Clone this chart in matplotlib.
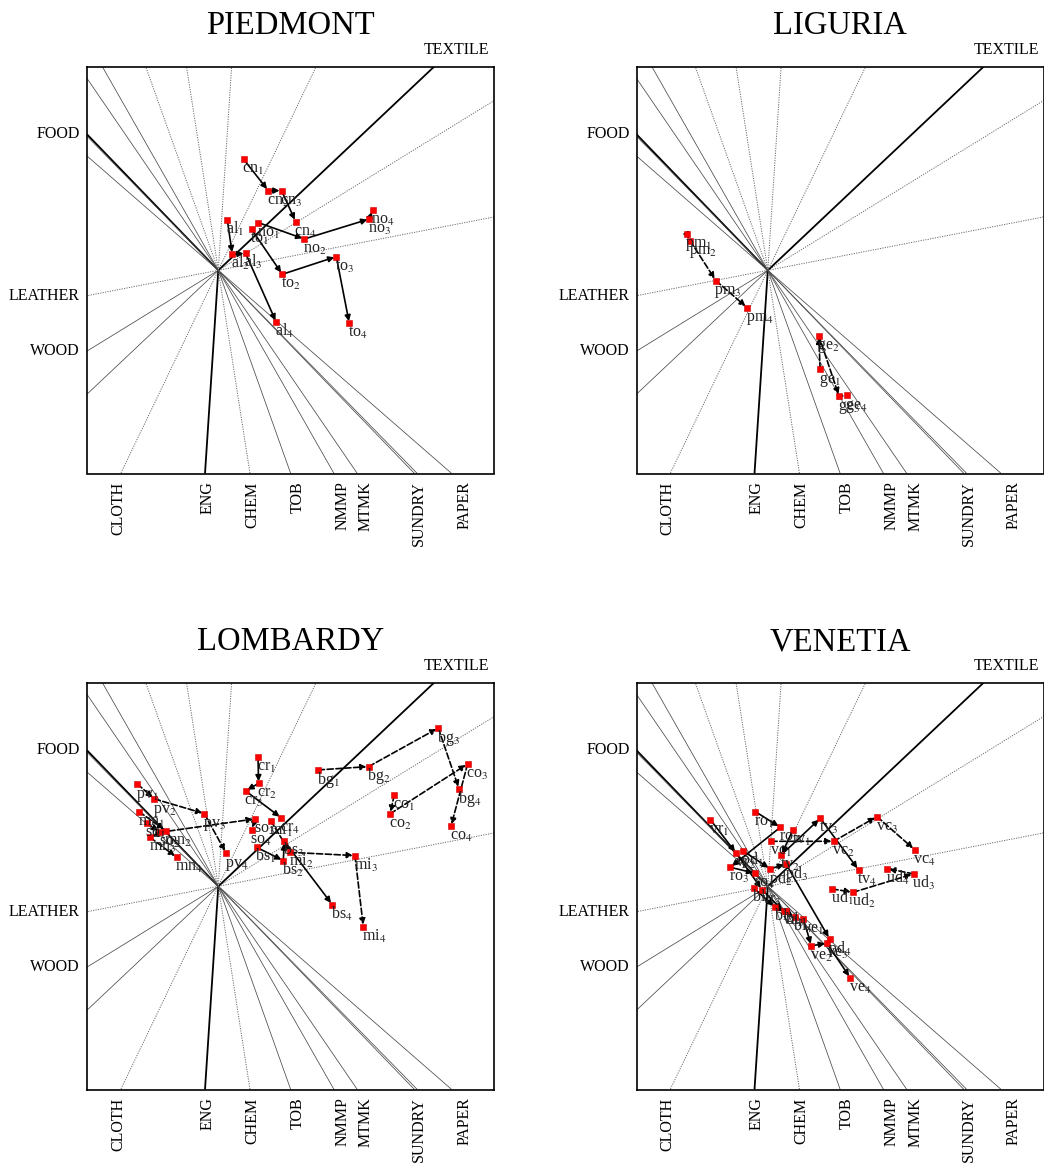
import numpy as np
import matplotlib
matplotlib.use('Agg')
import matplotlib.pyplot as plt

plt.rcParams['font.family'] = ['Liberation Serif', 'DejaVu Serif']
plt.rcParams['mathtext.fontset'] = 'stix'

# ---------------- data ----------------
VARIABLES = ['FOOD', 'LEATHER', 'WOOD', 'TEXTILE', 'CLOTH', 'ENG', 'CHEM',
             'TOB', 'NMMP', 'MTMK', 'SUNDRY', 'PAPER']
VAR_DX = [-1.313, -1.313, -1.313, 2.160, -0.976, -0.133, 0.317,
          0.724, 1.157, 1.390, 1.990, 2.334]
VAR_DY = [1.360, -0.254, -0.808, 2.038, -2.032, -2.032, -2.032,
          -2.032, -2.032, -2.032, -2.032, -2.032]

PIE_codes = ['cn', 'no', 'to', 'al']
PIE_x = [[0.253, 0.500, 0.633, 0.773],
         [0.400, 0.860, 1.510, 1.543],
         [0.333, 0.640, 1.180, 1.310],
         [0.090, 0.140, 0.273, 0.580]]
PIE_y = [[1.110, 0.797, 0.797, 0.487],
         [0.477, 0.313, 0.513, 0.603],
         [0.410, -0.040, 0.137, -0.530],
         [0.503, 0.160, 0.170, -0.520]]

LIG_codes = ['pm', 'ge']
LIG_x = [[-0.813, -0.777, -0.520, -0.207],
         [0.523, 0.510, 0.713, 0.787]]
LIG_y = [[0.367, 0.297, -0.103, -0.373],
         [-0.987, -0.653, -1.260, -1.250]]

LOM_codes = ['pv', 'mn', 'so', 'cr', 'mi', 'bs', 'bg', 'co']
LOM_x = [[-0.810, -0.640, -0.140, 0.077],
         [-0.793, -0.527, -0.683, -0.417],
         [-0.717, -0.583, 0.367, 0.334],
         [0.397, 0.403, 0.273, 0.630],
         [0.524, 0.717, 1.367, 1.450],
         [0.383, 0.650, 0.660, 1.140],
         [1.000, 1.503, 2.200, 2.407],
         [1.760, 1.717, 2.493, 2.327]]
LOM_y = [[1.024, 0.874, 0.727, 0.334],
         [0.747, 0.557, 0.490, 0.290],
         [0.634, 0.540, 0.674, 0.564],
         [1.297, 1.030, 0.954, 0.684],
         [0.657, 0.340, 0.307, -0.403],
         [0.390, 0.257, 0.450, -0.183],
         [1.164, 1.197, 1.583, 0.974],
         [0.914, 0.724, 1.224, 0.600]]

VEN_codes = ['vr', 'ro', 'tv', 'vc', 'ud', 'pd', 'bl', 've']
VEN_x = [[-0.575, -0.315, -0.058, 0.158],
         [-0.125, 0.125, -0.375, -0.125],
         [0.252, 0.135, 0.525, 0.908],
         [0.032, 0.658, 1.092, 1.468],
         [0.642, 0.852, 1.458, 1.192],
         [-0.252, 0.025, 0.182, 0.618],
         [-0.142, 0.075, 0.185, 0.268],
         [0.355, 0.435, 0.592, 0.825]]
VEN_y = [[0.667, 0.330, -0.033, -0.250],
         [0.747, 0.590, 0.190, 0.130],
         [0.567, 0.314, 0.680, 0.164],
         [0.450, 0.450, 0.697, 0.366],
         [-0.026, -0.060, 0.124, 0.177],
         [0.357, 0.174, 0.224, -0.526],
         [-0.016, -0.210, -0.250, -0.310],
         [-0.323, -0.595, -0.570, -0.916]]

# ---------------- styles / layout ----------------
POS_STYLE = ['bold', 'dot', 'solid', 'bold', 'dot', 'bold', 'dot',
             'solid', 'solid', 'solid', 'solid', 'solid']
NEG_STYLE = ['solid', 'dot', 'dot', 'solid', 'dot', 'dot', 'dot',
             'dot', 'solid', 'solid', 'solid', 'solid']
STYLE = {
    'bold': dict(color='black', lw=1.3, ls='-'),
    'solid': dict(color='#4a4a4a', lw=0.55, ls='-'),
    'dot': dict(color='#6a6a6a', lw=0.7, ls=(0, (1.2, 1.3))),
}
LEFT_LABELS = ['FOOD', 'LEATHER', 'WOOD']
BOTTOM_LABELS = ['CLOTH', 'ENG', 'CHEM', 'TOB', 'NMMP', 'MTMK', 'SUNDRY', 'PAPER']
BOTTOM_LABEL_X = [-1.00, -0.11, 0.34, 0.79, 1.24, 1.474, 2.01, 2.46]

DASHED = {'LIGURIA': {'pm', 'ge'},
          'LOMBARDY': {'pv', 'mn', 'so', 'bg', 'co', 'mi'},
          'VENETIA': {'vc', 'ud'},
          'PIEDMONT': set()}

XLIM = (-1.313, 2.757)
YLIM = (-2.032, 2.038)

W, H = 1044, 1168
BOX = 407
panels = [
    ('PIEDMONT', 87, 66.5, PIE_codes, PIE_x, PIE_y),
    ('LIGURIA', 636.5, 66.5, LIG_codes, LIG_x, LIG_y),
    ('LOMBARDY', 87, 682.5, LOM_codes, LOM_x, LOM_y),
    ('VENETIA', 636.5, 682.5, VEN_codes, VEN_x, VEN_y),
]

fig = plt.figure(figsize=(W / 100, H / 100), dpi=100)


def t_to_edge(ux, uy):
    ts = []
    if ux > 0:
        ts.append(XLIM[1] / ux)
    elif ux < 0:
        ts.append(XLIM[0] / ux)
    if uy > 0:
        ts.append(YLIM[1] / uy)
    elif uy < 0:
        ts.append(YLIM[0] / uy)
    return min(ts)


for title, x0, y0, codes, xs, ys in panels:
    ax = fig.add_axes([x0 / W, 1 - (y0 + BOX) / H, BOX / W, BOX / H])
    ax.set_xlim(*XLIM)
    ax.set_ylim(*YLIM)
    ax.set_xticks([])
    ax.set_yticks([])
    for sp in ax.spines.values():
        sp.set_linewidth(1.2)
        sp.set_color('black')

    # variable axes through the origin
    for i, v in enumerate(VARIABLES):
        ux, uy = VAR_DX[i], VAR_DY[i]
        tp = t_to_edge(ux, uy)
        tn = t_to_edge(-ux, -uy)
        ax.plot([0, tp * ux], [0, tp * uy], zorder=1,
                solid_capstyle='butt', **STYLE[POS_STYLE[i]])
        ax.plot([0, -tn * ux], [0, -tn * uy], zorder=1,
                solid_capstyle='butt', **STYLE[NEG_STYLE[i]])

    # left labels
    ytr = ax.get_yaxis_transform()
    for name in LEFT_LABELS:
        i = VARIABLES.index(name)
        ax.text(-7 / BOX, VAR_DY[i], name, transform=ytr, ha='right',
                va='center', fontsize=11.5, clip_on=False)
    # bottom labels
    xtr = ax.get_xaxis_transform()
    for name, lx in zip(BOTTOM_LABELS, BOTTOM_LABEL_X):
        ax.text(lx, -8 / BOX, name, transform=xtr, rotation=90, ha='center',
                va='top', fontsize=11.5, clip_on=False)
    # TEXTILE label
    ax.text((456.7 - 87) / BOX, 1 + 12.5 / BOX, 'TEXTILE', transform=ax.transAxes,
            ha='center', va='baseline', fontsize=11.5, clip_on=False)
    # title
    ax.text(0.5, 1 + 32 / BOX, title, transform=ax.transAxes, ha='center',
            va='baseline', fontsize=23.5, clip_on=False)

    # trajectories
    for code, sx, sy in zip(codes, xs, ys):
        ls = '--' if code in DASHED[title] else '-'
        for k in range(len(sx) - 1):
            ax.annotate('', xy=(sx[k + 1], sy[k + 1]), xytext=(sx[k], sy[k]),
                        arrowprops=dict(arrowstyle='-|>', color='black', lw=1.2,
                                        linestyle=ls, mutation_scale=8.5,
                                        shrinkA=0, shrinkB=1.5),
                        zorder=3)
        ax.plot(sx, sy, ls='none', marker='s', ms=4.0, mfc='#ff0000',
                mec='#cc0000', mew=0.4, zorder=4)
        for k in range(len(sx)):
            ax.annotate(f'{code}$_{{{k + 1}}}$', xy=(sx[k], sy[k]),
                        xytext=(-1, -10), textcoords='offset points',
                        ha='left', va='baseline', fontsize=11.5, color='#222222',
                        zorder=5)

fig.savefig('out.png', dpi=100)
